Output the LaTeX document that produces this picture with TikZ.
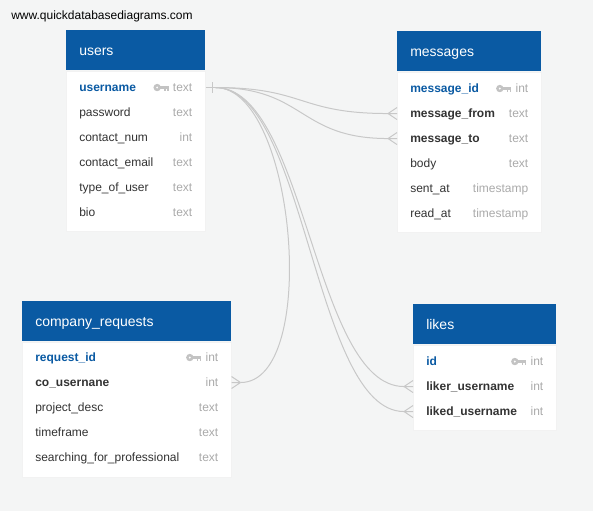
\documentclass[tikz,border=0pt]{standalone}
\usepackage{fontspec}
\setmainfont{Liberation Sans}
\usetikzlibrary{positioning, calc}

\definecolor{headblue}{RGB}{10,90,163}
\definecolor{canvas}{RGB}{244,245,245}
\definecolor{namegray}{RGB}{51,51,51}
\definecolor{typegray}{RGB}{170,170,170}
\definecolor{linkgray}{RGB}{200,200,200}
\definecolor{keygray}{RGB}{195,195,195}

\begin{document}
\begin{tikzpicture}[
		x=0.75pt, y=-0.75pt,
		tablehead/.style={
				rectangle,
				anchor=north west,
				text width=#1,
				align=left,
				inner xsep=9.75pt,
				inner ysep=0pt,
				text height=7.5pt,
				text depth=0pt,
				minimum height=30pt,
				fill=headblue,
				text=white,
				font=\fontsize{10.5}{12}\selectfont
			},
		tablebody/.style={
				rectangle,
				text width=#1,
				inner xsep=9.75pt,
				inner ysep=0pt,
				fill=white,
				draw=black!5
			},
		colname/.style={
				anchor=west,
				inner sep=0pt,
				text height=6.45pt,
				text depth=0pt,
				text=namegray,
				font=\fontsize{9}{11}\selectfont
			},
		pkname/.style={colname, text=headblue, font=\fontsize{9}{11}\selectfont\bfseries},
		fkname/.style={colname, font=\fontsize{9}{11}\selectfont\bfseries},
		coltype/.style={colname, anchor=east, text=typegray},
		link/.style={draw=linkgray, line width=0.75pt},
		keyicon/.pic={
				\fill[keygray, even odd rule] (0,0) circle (3.7) (0,0) circle (1.3);
				\fill[keygray] (2,-1.3) rectangle (11.5,1.3);
				\fill[keygray] (7,1) rectangle (8.5,3);
				\fill[keygray] (10,1) rectangle (11.5,3);
			},
		crowfoot/.pic={
				\draw[link] (-9,0) -- (0,-6) (-9,0) -- (0,6) (-9,0) -- (0,0);
			},
		]

		\fill[canvas] (0,0) rectangle (593,511);
		\useasboundingbox (0,0) rectangle (593,511);

		\node[anchor=base west, inner sep=0pt, font=\fontsize{9}{11}\selectfont] (site) at (11,19.5) {www.quickdatabasediagrams.com};

		% users
		\node[tablehead=84.75pt] (users) at (66,30) {users};
		\node[tablebody=84.75pt, minimum height=120pt, below=0pt of users] (users-body) {};
		\node[pkname] (users-1) at ($(users.south west)+(13,17)$) {username};
		\node[coltype] (users-1t) at ($(users.south east)+(-13,17)$) {text};
		\pic at ($(users-1t.west)+(-15.5,0)$) {keyicon};
		\foreach \nm/\ty [count=\i from 2] in {password/text, contact\_num/int, contact\_email/text, type\_of\_user/text, bio/text} {
			\node[colname] (users-\i) at ($(users.south west)+(13,{17+25*(\i-1)})$) {\nm};
			\node[coltype] (users-\i t) at ($(users.south east)+(-13,{17+25*(\i-1)})$) {\ty};
		}

		% messages
		\node[tablehead=88.5pt] (messages) at (397,31) {messages};
		\node[tablebody=88.5pt, minimum height=120pt, below=0pt of messages] (messages-body) {};
		\node[pkname] (messages-1) at ($(messages.south west)+(13,17)$) {message\_id};
		\node[coltype] (messages-1t) at ($(messages.south east)+(-13,17)$) {int};
		\pic at ($(messages-1t.west)+(-15.5,0)$) {keyicon};
		\node[fkname] (messages-2) at ($(messages.south west)+(13,42)$) {message\_from};
		\node[coltype] (messages-2t) at ($(messages.south east)+(-13,42)$) {text};
		\node[fkname] (messages-3) at ($(messages.south west)+(13,67)$) {message\_to};
		\node[coltype] (messages-3t) at ($(messages.south east)+(-13,67)$) {text};
		\foreach \nm/\ty [count=\i from 4] in {body/text, sent\_at/timestamp, read\_at/timestamp} {
			\node[colname] (messages-\i) at ($(messages.south west)+(13,{17+25*(\i-1)})$) {\nm};
			\node[coltype] (messages-\i t) at ($(messages.south east)+(-13,{17+25*(\i-1)})$) {\ty};
		}

		% company_requests
		\node[tablehead=137.25pt] (company) at (22,301) {company\_requests};
		\node[tablebody=137.25pt, minimum height=101.25pt, below=0pt of company] (company-body) {};
		\node[pkname] (company-1) at ($(company.south west)+(13,16)$) {request\_id};
		\node[coltype] (company-1t) at ($(company.south east)+(-13,16)$) {int};
		\pic at ($(company-1t.west)+(-15.5,0)$) {keyicon};
		\node[fkname] (company-2) at ($(company.south west)+(13,41)$) {co\_usernane};
		\node[coltype] (company-2t) at ($(company.south east)+(-13,41)$) {int};
		\foreach \nm/\ty [count=\i from 3] in {project\_desc/text, timeframe/text, searching\_for\_professional/text} {
			\node[colname] (company-\i) at ($(company.south west)+(13,{16+25*(\i-1)})$) {\nm};
			\node[coltype] (company-\i t) at ($(company.south east)+(-13,{16+25*(\i-1)})$) {\ty};
		}

		% likes
		\node[tablehead=87.75pt] (likes) at (413,304) {likes};
		\node[tablebody=87.75pt, minimum height=63.75pt, below=0pt of likes] (likes-body) {};
		\node[pkname] (likes-1) at ($(likes.south west)+(13,17)$) {id};
		\node[coltype] (likes-1t) at ($(likes.south east)+(-13,17)$) {int};
		\pic at ($(likes-1t.west)+(-15.5,0)$) {keyicon};
		\node[fkname] (likes-2) at ($(likes.south west)+(13,42)$) {liker\_username};
		\node[coltype] (likes-2t) at ($(likes.south east)+(-13,42)$) {int};
		\node[fkname] (likes-3) at ($(likes.south west)+(13,67)$) {liked\_username};
		\node[coltype] (likes-3t) at ($(likes.south east)+(-13,67)$) {int};

		% links from users.username
		\coordinate (ukey) at ($(users-1 -| users.east)+(10,0)$);
		\draw[link] (users-1 -| users.east) -- (ukey);
		\draw[link] ($(users-1 -| users.east)+(7,-5.5)$) -- ++(0,11);

		\draw[link] (ukey) .. controls +(90,0) and +(-90,0) .. ($(messages-2 -| messages.west)+(-9,0)$);
		\pic at (messages-2 -| messages.west) {crowfoot};
		\draw[link] (ukey) .. controls +(90,0) and +(-90,0) .. ($(messages-3 -| messages.west)+(-9,0)$);
		\pic at (messages-3 -| messages.west) {crowfoot};

		\draw[link] (ukey) .. controls +(80,0) and +(80,0) .. ($(company-2 -| company.east)+(9,0)$);
		\pic[xscale=-1] at (company-2 -| company.east) {crowfoot};

		\draw[link] (ukey) .. controls +(90,0) and +(-90,0) .. ($(likes-2 -| likes.west)+(-9,0)$);
		\pic at (likes-2 -| likes.west) {crowfoot};
		\draw[link] (ukey) .. controls +(90,0) and +(-90,0) .. ($(likes-3 -| likes.west)+(-9,0)$);
		\pic at (likes-3 -| likes.west) {crowfoot};

	\end{tikzpicture}
\end{document}
